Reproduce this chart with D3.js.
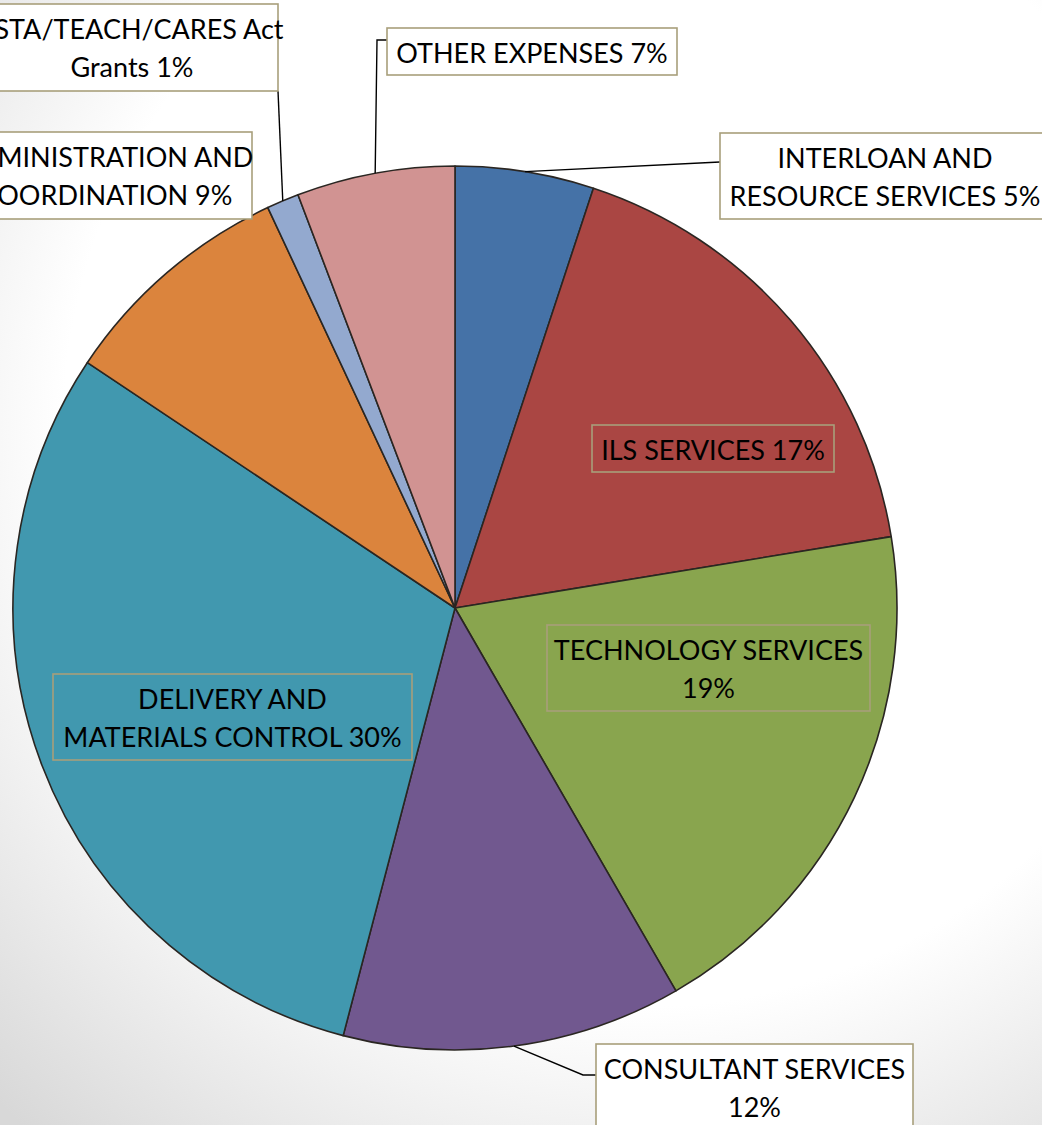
<!DOCTYPE html>
<html><head><meta charset="utf-8">
<script src="https://cdn.jsdelivr.net/npm/d3@7"></script>
<style>html,body{margin:0;padding:0;overflow:hidden;background:#fff}</style>
</head><body>
<svg id="c" width="1042" height="1125"></svg>
<script>
// ---- data ----
const categories = ["INTERLOAN AND RESOURCE SERVICES","ILS SERVICES","TECHNOLOGY SERVICES","CONSULTANT SERVICES","DELIVERY AND MATERIALS CONTROL","ADMINISTRATION AND COORDINATION","LSTA/TEACH/CARES Act Grants","OTHER EXPENSES"];
const values = [5.07, 17.35, 19.25, 12.4, 30.3, 8.67, 1.18, 5.78];
const pctLabels = ["5%","17%","19%","12%","30%","9%","1%","7%"];
const labelLines = [
  ["INTERLOAN AND","RESOURCE SERVICES 5%"],
  ["ILS SERVICES 17%"],
  ["TECHNOLOGY SERVICES","19%"],
  ["CONSULTANT SERVICES","12%"],
  ["DELIVERY AND","MATERIALS CONTROL 30%"],
  ["ADMINISTRATION AND","COORDINATION 9%"],
  ["LSTA/TEACH/CARES Act","Grants 1%"],
  ["OTHER EXPENSES 7%"]
];
const colors = ["#4572A7","#AA4643","#89A54E","#71588F","#4198AF","#DB843D","#93A9CF","#D19392"];

// ---- layout ----
const W=1042,H=1125, cx=455, cy=608, R=442;
const boxes = [
  {x:720,y:133,w:330,h:86,fill:"#fff",leader:"straight"},
  {x:592,y:425,w:242,h:47,fill:"none"},
  {x:547,y:625,w:323,h:86,fill:"none"},
  {x:596,y:1044,w:317,h:100,fill:"#fff",leader:"bottomElbow"},
  {x:53,y:674,w:359,h:86,fill:"none"},
  {x:-40,y:132,w:292,h:87,fill:"#fff"},
  {x:-14,y:4,w:292,h:87,fill:"#fff",leader:"lsta"},
  {x:387,y:28,w:290,h:47,fill:"#fff",leader:"topElbow"}
];

const svg = d3.select("#c");
const defs = svg.append("defs");
const g = defs.append("radialGradient").attr("id","bg").attr("gradientUnits","userSpaceOnUse")
  .attr("cx",640).attr("cy",430).attr("r",930);
g.append("stop").attr("offset","0.62").attr("stop-color","#ffffff");
g.append("stop").attr("offset","1").attr("stop-color","#d8d8d8");
svg.append("rect").attr("width",W).attr("height",H).attr("fill","url(#bg)");

const pie = d3.pie().sort(null).value(d=>d)(values);
const arc = d3.arc().innerRadius(0).outerRadius(R);
const root = svg.append("g").attr("transform",`translate(${cx},${cy})`);
root.selectAll("path.slice").data(pie).join("path")
  .attr("class","slice").attr("d",arc)
  .attr("fill",(d,i)=>colors[i]).attr("stroke","#2a2622").attr("stroke-width",1.6).attr("stroke-linejoin","round");

function edgePt(d){ const a=(d.startAngle+d.endAngle)/2; return [cx+R*Math.sin(a), cy-R*Math.cos(a)]; }

// leaders
const lg = svg.append("g").attr("fill","none").attr("stroke","#000").attr("stroke-width",1.4);
pie.forEach((d,i)=>{
  const b=boxes[i], p=edgePt(d);
  let pts=null;
  if(b.leader==="straight") pts=[p,[b.x,b.y+29]];
  else if(b.leader==="bottomElbow") pts=[p,[b.x-13,b.y+31],[b.x,b.y+31]];
  else if(b.leader==="lsta") pts=[p,[b.x+b.w,b.y+b.h]];
  else if(b.leader==="topElbow") pts=[p,[b.x-10,b.y+12],[b.x,b.y+12]];
  if(pts) lg.append("path").attr("d",d3.line()(pts));
});

// label boxes
const bg2 = svg.append("g");
boxes.forEach((b,i)=>{
  bg2.append("rect").attr("x",b.x).attr("y",b.y).attr("width",b.w).attr("height",b.h)
    .attr("fill",b.fill).attr("stroke","#A89F7B").attr("stroke-width",1.6);
  const t = bg2.append("text").attr("text-anchor","middle")
    .attr("font-family","Lato, 'Open Sans', sans-serif").attr("font-size",27).attr("fill","#000");
  labelLines[i].forEach((ln,j)=>{
    t.append("tspan").attr("x",b.x+b.w/2).attr("y",b.y+35+j*38).text(ln);
  });
});
</script>
</body></html>
